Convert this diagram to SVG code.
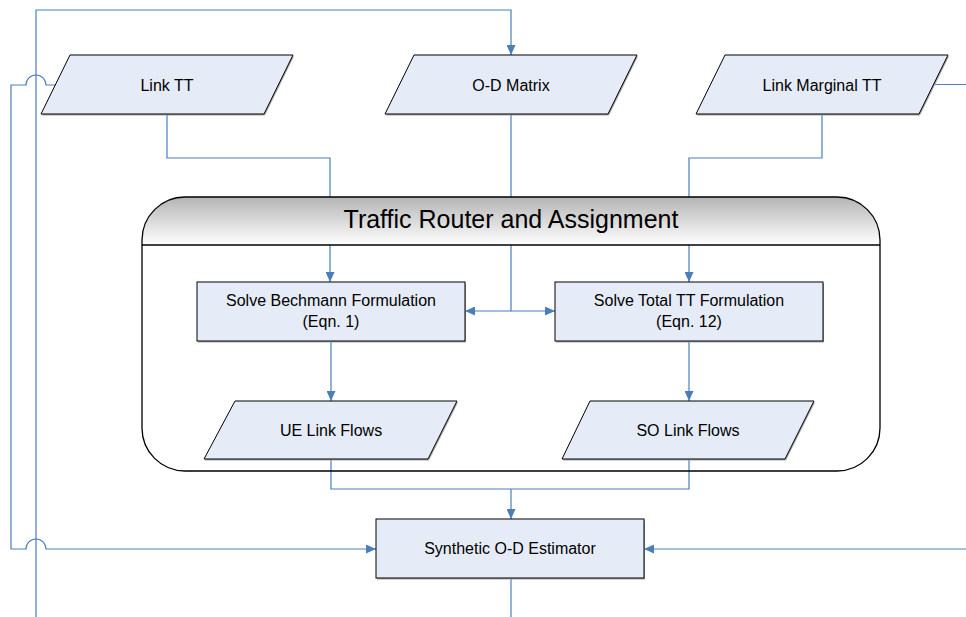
<svg xmlns="http://www.w3.org/2000/svg" width="966" height="617" viewBox="0 0 966 617">
<defs>
<marker id="arr" markerUnits="userSpaceOnUse" markerWidth="10" markerHeight="9" refX="10" refY="4.5" orient="auto">
<path d="M0,0 L10,4.5 L0,9 z" fill="#4a7ebb"/>
</marker>
<linearGradient id="hdr" x1="0" y1="0" x2="0" y2="1">
<stop offset="0" stop-color="#b4b4b4"/>
<stop offset="1" stop-color="#ffffff"/>
</linearGradient>
</defs>
<style>
.sh{fill:#a6a6a6;stroke:none}
.nd{fill:#e6ecf7;stroke:#000;stroke-width:1}
.t{font-family:"Liberation Sans",Arial,sans-serif;font-size:16px;fill:#000;text-anchor:middle}
.c{fill:none;stroke:#4a7ebb;stroke-width:1.2}
</style>
<rect width="966" height="617" fill="#fff"/>

<g id="connectors">
<path class="c" d="M167,114 V158 H330 V282" marker-end="url(#arr)"/>
<path class="c" d="M822,114 V158 H689 V282" marker-end="url(#arr)"/>
<path class="c" d="M511,114 V311 H465" marker-end="url(#arr)"/>
<path class="c" d="M511,311 H555" marker-end="url(#arr)"/>
<path class="c" d="M36,617 V10 H511 V55" marker-end="url(#arr)"/>
<path class="c" d="M55.5,85 H46 A10,10 0 0 0 26,85 H11 V549 H26 A10,10 0 0 1 46,549 H376" marker-end="url(#arr)"/>
<path class="c" d="M933.5,84.5 H966"/>
<path class="c" d="M966,549 H644" marker-end="url(#arr)"/>
<path class="c" d="M331,341 V401" marker-end="url(#arr)"/>
<path class="c" d="M689,341 V401" marker-end="url(#arr)"/>
<path class="c" d="M331,459 V489 H689 V459"/>
<path class="c" d="M511,489 V519" marker-end="url(#arr)"/>
<path class="c" d="M511,578 V617"/>
</g>

<g id="container">
<path d="M142,245 V240 A43,43 0 0 1 185,197 H837 A43,43 0 0 1 880,240 V245 Z" fill="url(#hdr)" stroke="none"/>
<path d="M142,245 V240 A43,43 0 0 1 185,197 H837 A43,43 0 0 1 880,240 V428 A43,43 0 0 1 837,471 H185 A43,43 0 0 1 142,428 Z" fill="none" stroke="#000" stroke-width="1.3"/>
<line x1="142" y1="245" x2="880" y2="245" stroke="#000" stroke-width="1.3"/>
<text class="t" x="511" y="228" style="font-size:25px">Traffic Router and Assignment</text>
</g>

<g id="link-tt">
<polygon class="sh" points="71,56.5 294,56.5 265,115.5 42,115.5"/>
<polygon class="nd" points="70,55 293,55 264,114 41,114"/>
<text class="t" x="167" y="91">Link TT</text>
</g>

<g id="od-matrix">
<polygon class="sh" points="415,56.5 638,56.5 609,115.5 386,115.5"/>
<polygon class="nd" points="414,55 637,55 608,114 385,114"/>
<text class="t" x="511" y="91">O-D Matrix</text>
</g>

<g id="link-marginal-tt">
<polygon class="sh" points="726,56.5 949,56.5 920,115.5 697,115.5"/>
<polygon class="nd" points="725,55 948,55 919,114 696,114"/>
<text class="t" x="822" y="91">Link Marginal TT</text>
</g>

<g id="solve-bechmann">
<rect class="sh" x="198" y="283.5" width="268" height="59"/>
<rect class="nd" x="197" y="282" width="268" height="59"/>
<text class="t" x="331" y="306">Solve Bechmann Formulation</text>
<text class="t" x="331" y="327">(Eqn. 1)</text>
</g>

<g id="solve-total-tt">
<rect class="sh" x="556" y="283.5" width="268" height="59"/>
<rect class="nd" x="555" y="282" width="268" height="59"/>
<text class="t" x="689" y="306">Solve Total TT Formulation</text>
<text class="t" x="689" y="327">(Eqn. 12)</text>
</g>

<g id="ue-link-flows">
<polygon class="sh" points="236,402.5 458,402.5 429,460.5 205,460.5"/>
<polygon class="nd" points="235,401 457,401 428,459 204,459"/>
<text class="t" x="331" y="436">UE Link Flows</text>
</g>

<g id="so-link-flows">
<polygon class="sh" points="591,402.5 815,402.5 786,460.5 563,460.5"/>
<polygon class="nd" points="590,401 814,401 785,459 562,459"/>
<text class="t" x="688" y="436">SO Link Flows</text>
</g>

<g id="synthetic-od-estimator">
<rect class="sh" x="377" y="520.5" width="268" height="59"/>
<rect class="nd" x="376" y="519" width="268" height="59"/>
<text class="t" x="510" y="554">Synthetic O-D Estimator</text>
</g>
</svg>
